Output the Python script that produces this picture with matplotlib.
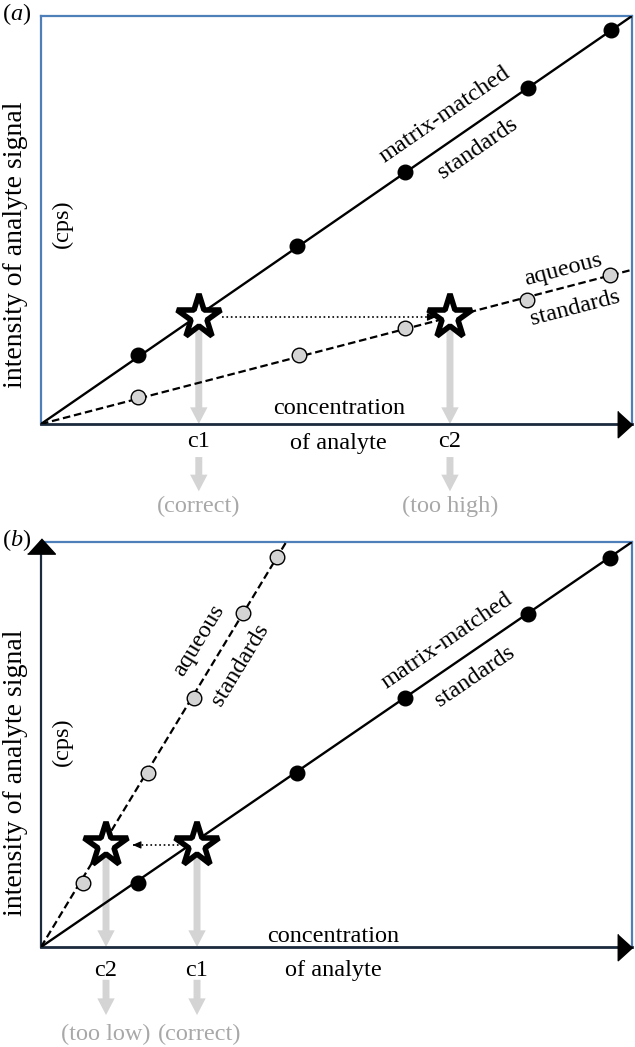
import matplotlib.pyplot as plt
from matplotlib.patches import FancyArrowPatch

plt.rcParams['font.family'] = ['Liberation Serif', 'DejaVu Serif']
plt.rcParams['mathtext.fontset'] = 'custom'
plt.rcParams['mathtext.rm'] = 'Liberation Serif'
plt.rcParams['mathtext.it'] = 'Liberation Serif:italic'

# ---- data (concentration / intensity, scaled to the axes box 0..1) ----
# panel (a): aqueous standards give a weaker signal
mm_x_a = [0.164, 0.433, 0.616, 0.824, 0.964]
mm_y_a = [0.169, 0.436, 0.618, 0.824, 0.966]
aq_x_a = [0.164, 0.437, 0.616, 0.822, 0.963]
aq_y_a = [0.066, 0.169, 0.235, 0.304, 0.365]
mm_slope_a = 1.0
aq_slope_a = 0.378
sample_y_a = 0.262
c1_a = 0.267
c2_a = 0.692

# panel (b): aqueous standards give a stronger signal
mm_x_b = [0.164, 0.433, 0.616, 0.824, 0.963]
mm_y_b = [0.158, 0.430, 0.615, 0.822, 0.960]
aq_x_b = [0.071, 0.181, 0.259, 0.342, 0.399]
aq_y_b = [0.158, 0.430, 0.615, 0.825, 0.963]
mm_slope_b = 1.0
aq_slope_b = 2.41
sample_y_b = 0.252
c1_b = 0.264
c2_b = 0.110

W, H = 635, 1047
fig = plt.figure(figsize=(W / 100, H / 100), dpi=100)

BLUE = '#4f7fb8'
NAVY = '#1c2a3e'
LGRAY = '#d4d4d4'
TGRAY = '#a8a8a8'
FS = 17.5


def make_ax(top_px, bot_px):
    ax = fig.add_axes([41 / W, 1 - bot_px / H, 591 / W, (bot_px - top_px) / H])
    ax.set_xlim(0, 1)
    ax.set_ylim(0, 1)
    ax.set_xticks([])
    ax.set_yticks([])
    for s in ['left', 'top', 'right']:
        ax.spines[s].set_color(BLUE)
        ax.spines[s].set_linewidth(1.6)
    ax.spines['bottom'].set_color(NAVY)
    ax.spines['bottom'].set_linewidth(2)
    ax.patch.set_alpha(0)
    # arrow head at the end of the x axis
    ax.plot([0.989], [0], marker=[(-0.55, 1), (-0.55, -1), (0.55, 0)],
            ms=19, color='black', clip_on=False, zorder=6)
    return ax


def gray_arrow(ax, x, y0, y1):
    ax.add_patch(FancyArrowPatch((x, y0), (x, y1), mutation_scale=1,
                                 arrowstyle='simple,head_length=12,head_width=12.5,tail_width=5',
                                 color=LGRAY, lw=0, shrinkA=0, shrinkB=0,
                                 clip_on=False, zorder=2))


def dotted_arrow(ax, x0, x1, y):
    ax.plot([x0, x1], [y, y], ls=':', lw=1.2, color='black', zorder=3)
    d = 0.012 if x1 > x0 else -0.012
    ax.annotate('', xy=(x1, y), xytext=(x1 - d, y),
                arrowprops=dict(arrowstyle='-|>,head_length=5,head_width=2.2',
                                mutation_scale=1, color='black', lw=0.8,
                                shrinkA=0, shrinkB=0))


def draw_panel(ax, mm_x, mm_y, aq_x, aq_y, mm_slope, aq_slope, sy, c1, c2):
    ax.plot([0, 1 / max(mm_slope, 1)], [0, min(mm_slope, 1)], color='black', lw=1.7, zorder=3)
    aq_end = min(1, 1 / aq_slope)
    ax.plot([0, aq_end], [0, aq_end * aq_slope], color='black', lw=1.6,
            ls=(0, (3.4, 1.7)), zorder=3)
    ax.plot(mm_x, mm_y, 'o', ms=10.5, mfc='black', mec='black', zorder=4)
    ax.plot(aq_x, aq_y, 'o', ms=10.5, mfc=LGRAY, mec='black', mew=1, zorder=4)
    for cx in (c1, c2):
        gray_arrow(ax, cx, sy - 0.02, 0.0)
        ax.plot([cx], [sy], marker='*', ms=33, mfc='white', mec='black', mew=4, zorder=5)


# ---------------- panel (a) ----------------
ax1 = make_ax(16, 424)
draw_panel(ax1, mm_x_a, mm_y_a, aq_x_a, aq_y_a, mm_slope_a, aq_slope_a, sample_y_a, c1_a, c2_a)
dotted_arrow(ax1, c1_a + 0.04, c2_a - 0.024, sample_y_a)
gray_arrow(ax1, c1_a, -0.081, -0.165)
gray_arrow(ax1, c2_a, -0.081, -0.165)

kw = dict(ha='center', va='center', fontsize=FS)
ax1.text(0.684, 0.757, 'matrix-matched', rotation=34.6, **kw)
ax1.text(0.739, 0.676, 'standards', rotation=34.6, **kw)
ax1.text(0.883, 0.377, 'aqueous', rotation=14.6, **kw)
ax1.text(0.904, 0.284, 'standards', rotation=14.6, **kw)
ax1.text(0.036, 0.490, '(cps)', rotation=90, **kw)
ax1.text(0.504, 0.039, 'concentration', **kw)
ax1.text(0.503, -0.047, 'of analyte', clip_on=False, **kw)
ax1.text(c1_a, -0.042, 'c1', **kw)
ax1.text(c2_a, -0.042, 'c2', **kw)
ax1.text(c1_a, -0.203, '(correct)', color=TGRAY, **kw)
ax1.text(c2_a, -0.203, '(too high)', color=TGRAY, **kw)

# ---------------- panel (b) ----------------
ax2 = make_ax(542, 947)
ax2.spines['left'].set_color(NAVY)
ax2.plot([0], [0.99], marker=[(-1, -0.55), (1, -0.55), (0, 0.55)],
         ms=20, color='black', clip_on=False, zorder=6)
draw_panel(ax2, mm_x_b, mm_y_b, aq_x_b, aq_y_b, mm_slope_b, aq_slope_b, sample_y_b, c1_b, c2_b)
dotted_arrow(ax2, c1_b - 0.024, c2_b + 0.045, sample_y_b)
gray_arrow(ax2, c2_b, -0.081, -0.168)
gray_arrow(ax2, c1_b, -0.081, -0.168)

ax2.text(0.687, 0.756, 'matrix-matched', rotation=34.4, **kw)
ax2.text(0.734, 0.667, 'standards', rotation=34.4, **kw)
ax2.text(0.267, 0.756, 'aqueous', rotation=58.7, **kw)
ax2.text(0.337, 0.696, 'standards', rotation=58.7, **kw)
ax2.text(0.036, 0.506, '(cps)', rotation=90, **kw)
ax2.text(0.494, 0.025, 'concentration', **kw)
ax2.text(0.494, -0.057, 'of analyte', **kw)
ax2.text(c2_b, -0.057, 'c2', **kw)
ax2.text(c1_b, -0.057, 'c1', **kw)
ax2.text(c2_b, -0.215, '(too low)', color=TGRAY, **kw)
ax2.text(c1_b + 0.005, -0.215, '(correct)', color=TGRAY, **kw)

# y labels and panel letters
for yc, lab, yl in [(245, r'($\it{a}$)', 14), (773, r'($\it{b}$)', 540)]:
    fig.text(16 / W, 1 - yc / H, 'intensity of analyte signal', rotation=90,
             ha='center', va='center', fontsize=20)
    fig.text(17 / W, 1 - yl / H, lab, ha='center', va='center', fontsize=FS)

fig.savefig('out.png', dpi=100)
